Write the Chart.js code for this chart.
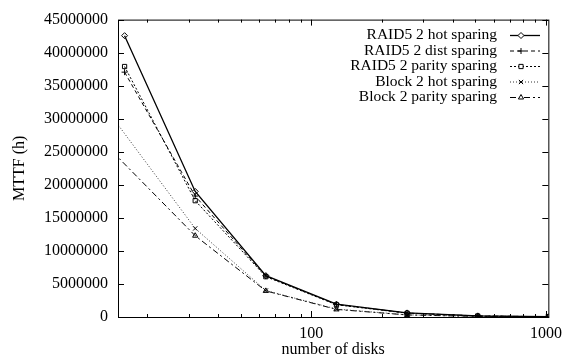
<!DOCTYPE html>
<html>
<head>
<meta charset="utf-8">
<script src="https://cdn.jsdelivr.net/npm/chart.js@4"></script>
<style>
  html, body { margin: 0; padding: 0; background: #fff; }
  #wrap { width: 569px; height: 356px; }
</style>
</head>
<body>
<div id="wrap"><canvas id="mttfChart"></canvas></div>
<script>
// number of disks
const raidDisks = [16, 32, 64, 128, 256, 512, 1024];
const blockDisks = [8, 32, 64, 128, 256, 512, 1024];

// MTTF (h)
const raidHot = [42570000, 19000000, 6260000, 1950000, 620000, 170000, 40000];
const raidDist = [37050000, 18300000, 6180000, 1900000, 600000, 160000, 40000];
const raidParity = [37900000, 17600000, 6100000, 1850000, 580000, 150000, 40000];
const blockHot = [42100000, 13400000, 4000000, 1200000, 330000, 90000, 20000];
const blockParity = [34000000, 12300000, 3950000, 1150000, 310000, 85000, 20000];

const seriesNames = ['RAID5 2 hot sparing', 'RAID5 2 dist sparing', 'RAID5 2 parity sparing',
                     'Block 2 hot sparing', 'Block 2 parity sparing'];

const yTicks = [0, 5000000, 10000000, 15000000, 20000000, 25000000, 30000000, 35000000, 40000000, 45000000];
const xLabels = [100, 1000];
const xMinor = [20, 30, 40, 50, 60, 70, 80, 90, 200, 300, 400, 500, 600, 700, 800, 900];

const serif = "'Liberation Serif', 'DejaVu Serif', serif";

function pts(xs, ys) {
    let out = [];
    for (let i = 0; i < xs.length; i++) {
        out.push({x: xs[i], y: ys[i]});
    }
    return out;
}

function series(label, data, dash, style, color, width) {
    return {
        label: label,
        data: data,
        borderColor: color,
        borderWidth: width,
        borderDash: dash,
        pointStyle: style,
        pointRadius: 3,
        pointBorderColor: '#000',
        pointBorderWidth: 1,
        pointBackgroundColor: 'rgba(255,255,255,0)',
        tension: 0,
        fill: false
    };
}

// gnuplot-like frame with inward ticks on all four sides
const framePlugin = {
    id: 'frame',
    afterDatasetsDraw(chart) {
        const c = chart.ctx;
        const a = chart.chartArea;
        const xs = chart.scales.x;
        const ys = chart.scales.y;
        c.save();
        c.strokeStyle = '#000';
        c.lineWidth = 1;
        c.setLineDash([]);
        c.beginPath();
        yTicks.forEach(v => {
            const y = Math.round(ys.getPixelForValue(v)) + 0.5;
            c.moveTo(a.left, y); c.lineTo(a.left + 6, y);
            c.moveTo(a.right, y); c.lineTo(a.right - 6, y);
        });
        xLabels.forEach(v => {
            const x = Math.round(xs.getPixelForValue(v)) + 0.5;
            c.moveTo(x, a.bottom); c.lineTo(x, a.bottom - 6);
            c.moveTo(x, a.top); c.lineTo(x, a.top + 6);
        });
        xMinor.forEach(v => {
            const x = Math.round(xs.getPixelForValue(v)) + 0.5;
            c.moveTo(x, a.bottom); c.lineTo(x, a.bottom - 3);
            c.moveTo(x, a.top); c.lineTo(x, a.top + 3);
        });
        c.stroke();
        c.strokeRect(a.left + 0.5, a.top + 0.5, a.right - a.left, a.bottom - a.top);

        // key, gnuplot style: right aligned text, then a line sample
        c.font = '15.5px ' + serif;
        c.textAlign = 'right';
        c.textBaseline = 'middle';
        chart.data.datasets.forEach((ds, i) => {
            const y = 35 + i * 15.5;
            c.fillStyle = '#000';
            c.fillText(ds.label, 497, y);
            c.strokeStyle = ds.borderColor;
            c.lineWidth = ds.borderWidth;
            c.setLineDash(ds.borderDash);
            c.beginPath();
            c.moveTo(510, y + 0.5); c.lineTo(540, y + 0.5);
            c.stroke();
            c.setLineDash([]);
            c.strokeStyle = '#000';
            c.fillStyle = '#fff';
            c.lineWidth = 1;
            Chart.helpers.drawPoint(c, {pointStyle: ds.pointStyle, radius: 3, borderWidth: 1}, 521, y + 0.5);
        });
        c.restore();
    }
};

const config = {
    type: 'line',
    data: {
        datasets: [
            series(seriesNames[0], pts(raidDisks, raidHot), [], 'rectRot', '#000', 1.3),
            series(seriesNames[1], pts(raidDisks, raidDist), [4, 3], 'cross', '#000', 1),
            series(seriesNames[2], pts(raidDisks, raidParity), [2, 2], 'rect', '#000', 1),
            series(seriesNames[3], pts(blockDisks, blockHot), [1, 2], 'crossRot', '#333', 1),
            series(seriesNames[4], pts(blockDisks, blockParity), [6, 3, 2, 3], 'triangle', '#000', 1)
        ]
    },
    options: {
        responsive: true,
        maintainAspectRatio: false,
        animation: false,
        layout: {
            padding: {top: 15, right: 14, left: 0, bottom: 0}
        },
        plugins: {
            legend: {display: false},
            tooltip: {enabled: false}
        },
        scales: {
            x: {
                type: 'logarithmic',
                min: 15,
                max: 1024,
                grid: {display: false, drawTicks: false},
                border: {display: false},
                afterBuildTicks: (s) => { s.ticks = xLabels.map(v => ({value: v})); },
                afterFit: (s) => { s.height = 39; },
                ticks: {
                    color: '#000',
                    padding: 7,
                    maxRotation: 0,
                    autoSkip: false,
                    font: {family: serif, size: 16},
                    callback: (v) => String(v)
                },
                title: {
                    display: true,
                    text: 'number of disks',
                    color: '#000',
                    padding: {top: 0, bottom: -3},
                    font: {family: serif, size: 16}
                }
            },
            y: {
                min: 0,
                max: 45000000,
                grid: {display: false, drawTicks: false},
                border: {display: false},
                afterBuildTicks: (s) => { s.ticks = yTicks.map(v => ({value: v})); },
                afterFit: (s) => { s.width = 118; },
                ticks: {
                    color: '#000',
                    padding: 10,
                    font: {family: serif, size: 16},
                    callback: (v) => String(v)
                },
                title: {
                    display: true,
                    text: 'MTTF (h)',
                    color: '#000',
                    padding: {top: 10, bottom: 0},
                    font: {family: serif, size: 16}
                }
            }
        }
    },
    plugins: [framePlugin]
};

const myChart = new Chart(document.getElementById('mttfChart'), config);
</script>
</body>
</html>
